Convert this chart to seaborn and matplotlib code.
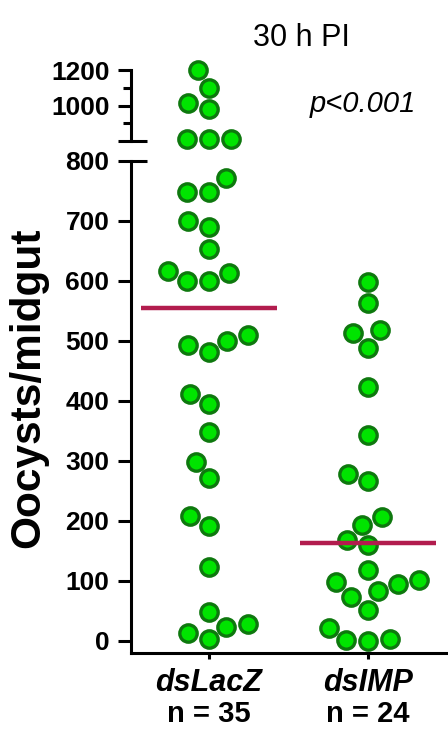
import numpy as np
import pandas as pd
import matplotlib
matplotlib.use("Agg")
import matplotlib.pyplot as plt
import matplotlib.transforms as mtransforms
import seaborn as sns

# ---------------- data ----------------
groups = ["dsLacZ", "dsIMP"]
n_labels = ["n = 35", "n = 24"]
lacz = [1200, 1100, 1015, 978, 810, 810, 810, 771, 749, 749, 700, 690, 653,
        617, 614, 600, 600, 510, 500, 493, 482, 412, 395, 349, 299, 271, 209,
        192, 124, 49, 28, 24, 14, 3]
imp = [599, 564, 518, 514, 489, 423, 343, 279, 266, 207, 193, 168, 160, 118,
       102, 99, 95, 83, 74, 52, 21, 4, 1, 0]
title = "30 h PI"
pval = "p<0.001"
ylabel = "Oocysts/midgut"
break_at = 800
lower_ticks = [0, 100, 200, 300, 400, 500, 600, 700, 800]
upper_ticks = [800, 1000, 1200]
upper_ticklabels = ["", "1000", "1200"]
upper_minor = [900, 1100]

# ---------------- style ----------------
sns.set_theme(style="white")
plt.rcParams["font.family"] = ["Liberation Sans", "DejaVu Sans"]
plt.rcParams["font.weight"] = "bold"

df = pd.DataFrame({
    "group": [groups[0]] * len(lacz) + [groups[1]] * len(imp),
    "value": lacz + imp,
})

W, H = 448, 730
fig = plt.figure(figsize=(W / 100, H / 100), dpi=100)
left = 131 / W
ax_lo = fig.add_axes([left, 1 - 653 / H, 1 - left, (653 - 161) / H])
ax_hi = fig.add_axes([left, 1 - 141 / H, 1 - left, (141 - 70) / H])

face = "#00e400"
edge = "#0e780e"
kw = dict(x="group", y="value", order=groups, size=12.5, color=face,
          edgecolor=edge, linewidth=2.4)
sns.swarmplot(data=df[df.value <= break_at], ax=ax_lo, **kw)
sns.swarmplot(data=df[df.value > break_at], ax=ax_hi, **kw)
for ax in (ax_lo, ax_hi):
    for c in ax.collections:
        c.set_clip_on(False)
        c.set_zorder(3)

# medians
for i, vals in enumerate([lacz, imp]):
    ax_lo.hlines(np.median(vals), i - 0.425, i + 0.425, color="#b21c4e",
                 lw=3.2, zorder=4)

lw = 2.2
xlim = (-0.49, 1.503)
# lower axis
ax_lo.set_ylim(-20, 800)
ax_lo.set_xlim(*xlim)
ax_lo.set_yticks(lower_ticks)
ax_lo.set_yticklabels([str(t) for t in lower_ticks])
ax_lo.set_xticks([0, 1])
ax_lo.set_xticklabels(["", ""])
ax_lo.set_xlabel("")
ax_lo.set_ylabel("")
ax_lo.spines["top"].set_visible(False)
ax_lo.spines["right"].set_visible(False)
for s in ("left", "bottom"):
    ax_lo.spines[s].set_linewidth(lw)
    ax_lo.spines[s].set_color("black")
ax_lo.tick_params(axis="y", direction="out", length=9.5, width=lw, pad=6,
                  labelsize=19, colors="black", left=True)
ax_lo.tick_params(axis="x", direction="out", length=4.5, width=lw,
                  colors="black", bottom=True)

# upper axis
ax_hi.set_ylim(800, 1200)
ax_hi.set_xlim(*xlim)
ax_hi.set_yticks(upper_ticks)
ax_hi.set_yticklabels(upper_ticklabels)
ax_hi.set_yticks(upper_minor, minor=True)
ax_hi.set_xticks([])
ax_hi.set_xlabel("")
ax_hi.set_ylabel("")
for s in ("top", "right", "bottom"):
    ax_hi.spines[s].set_visible(False)
ax_hi.spines["left"].set_linewidth(lw)
ax_hi.spines["left"].set_color("black")
ax_hi.tick_params(axis="y", which="major", direction="out", length=9.5,
                  width=lw, pad=6, labelsize=19, colors="black", left=True)
ax_hi.tick_params(axis="y", which="minor", direction="out", length=6,
                  width=lw, colors="black", left=True)

# break marks
brk = 16 / (W - 131)
ax_hi.plot([0, brk], [0, 0], transform=ax_hi.transAxes, color="black",
           lw=lw, clip_on=False, solid_capstyle="butt")
ax_lo.plot([0, brk], [1, 1], transform=ax_lo.transAxes, color="black",
           lw=lw, clip_on=False, solid_capstyle="butt")

# category labels
tr = mtransforms.blended_transform_factory(ax_lo.transData, fig.transFigure)
for i, (g, n) in enumerate(zip(groups, n_labels)):
    ax_lo.text(i, 1 - 683 / H, g, transform=tr, ha="center", va="center",
               fontsize=22, fontweight="bold", style="italic", color="black")
    ax_lo.text(i, 1 - 714 / H, n, transform=tr, ha="center", va="center",
               fontsize=21, fontweight="bold", color="black")

fig.text(301 / W, 1 - 38 / H, title, ha="center", va="center", fontsize=22,
         fontweight="normal", color="black")
fig.text(363 / W, 1 - 104 / H, pval, ha="center", va="center", fontsize=21,
         fontweight="normal", style="italic", color="black")
fig.text(28 / W, 1 - 388 / H, ylabel, ha="center", va="center", rotation=90,
         fontsize=30.5, fontweight="bold", color="black")

fig.savefig("out.png", dpi=100)
